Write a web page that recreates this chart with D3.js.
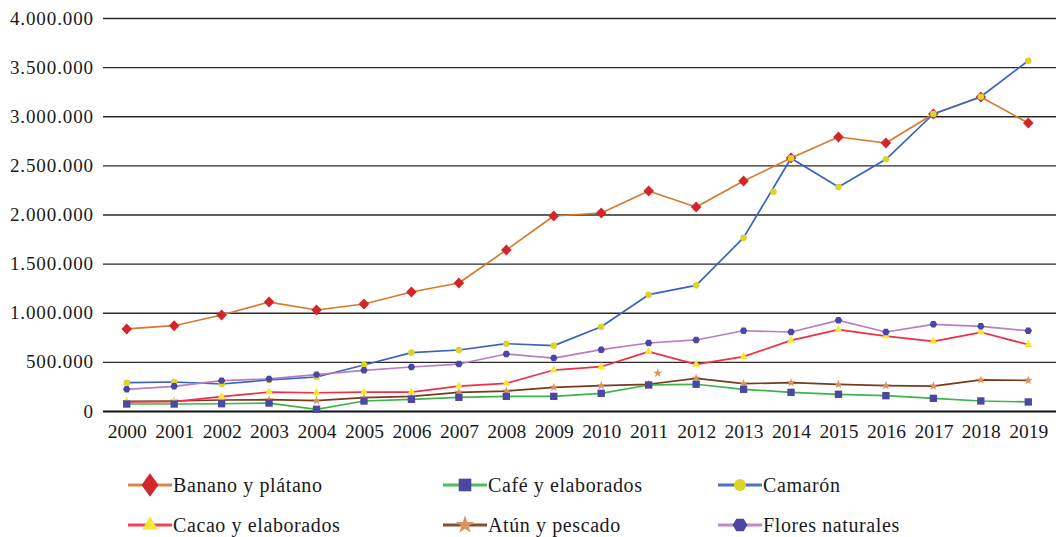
<!DOCTYPE html>
<html>
<head>
<meta charset="utf-8">
<script src="https://cdn.jsdelivr.net/npm/d3@7"></script>
<style>
  html, body { margin: 0; padding: 0; background: #ffffff; }
  svg { display: block; }
  text { font-family: "Liberation Serif", "DejaVu Serif", serif; fill: #1a1a1a; }
</style>
</head>
<body>
<svg id="chart" width="1062" height="537"></svg>
<script>
// Ecuador non-oil exports, 2000-2019 (thousand USD)
const years = [2000, 2001, 2002, 2003, 2004, 2005, 2006, 2007, 2008, 2009,
               2010, 2011, 2012, 2013, 2014, 2015, 2016, 2017, 2018, 2019];

const banano  = [835000, 868000, 977000, 1109000, 1028000, 1089000, 1211000, 1303000, 1639000, 1985000,
                 2015000, 2239000, 2076000, 2341000, 2575000, 2789000, 2728000, 3023000, 3196000, 2931000];
const cafe    = [71000, 71000, 74000, 81000, 17000, 102000, 119000, 139000, 149000, 149000,
                 180000, 265000, 272000, 221000, 190000, 170000, 156000, 129000, 102000, 92000];
const camaron = [288000, 295000, 275000, 316000, 346000, 468000, 594000, 621000, 685000, 665000,
                 858000, 1184000, 1279000, 1764000, 2572000, 2280000, 2562000, 3023000, 3199000, 3565000];
const cacao   = [92000, 95000, 146000, 193000, 186000, 193000, 193000, 254000, 282000, 417000,
                 451000, 604000, 475000, 553000, 719000, 828000, 763000, 709000, 801000, 675000];
const atun    = [98000, 102000, 112000, 115000, 105000, 136000, 149000, 190000, 203000, 241000,
                 258000, 272000, 333000, 278000, 288000, 271000, 258000, 254000, 316000, 312000];
const flores  = [221000, 251000, 309000, 326000, 370000, 414000, 448000, 478000, 580000, 539000,
                 624000, 692000, 723000, 817000, 804000, 923000, 804000, 882000, 862000, 817000];

// loose markers sitting off their lines (year position, value)
const extraAtun    = [{ year: 2011.19, value: 385000 }];
const extraCamaron = [{ year: 2013.63, value: 2232000 }];

const yTicks = [0, 500000, 1000000, 1500000, 2000000, 2500000, 3000000, 3500000, 4000000];

const seriesNames = ["Banano y plátano", "Café y elaborados", "Camarón",
                     "Cacao y elaborados", "Atún y pescado", "Flores naturales"];

// hexagon symbol for the flowers series
const symbolHexagon = {
  draw(context, size) {
    const r = Math.sqrt(size / (1.5 * Math.sqrt(3)));
    for (let i = 0; i < 6; i++) {
      const a = Math.PI / 3 * i;
      const px = r * Math.cos(a), py = r * Math.sin(a);
      if (i === 0) context.moveTo(px, py); else context.lineTo(px, py);
    }
    context.closePath();
  }
};

// drawing order (later series sit on top)
const series = [
  { name: seriesNames[0], values: banano,  line: "#D67A2E", fill: "#D2262C", symbol: d3.symbolSquare, size: 56, legendSize: 160, rotate: 45, sy: 1.05 },
  { name: seriesNames[4], values: atun,    line: "#7A3A1C", fill: "#D9935E", symbol: d3.symbolStar, size: 26, legendSize: 105, extra: extraAtun },
  { name: seriesNames[3], values: cacao,   line: "#F12E48", fill: "#F8E536", symbol: d3.symbolTriangle, size: 28, legendSize: 105 },
  { name: seriesNames[1], values: cafe,    line: "#3DB54B", fill: "#4B47A2", symbol: d3.symbolSquare, size: 54, legendSize: 160 },
  { name: seriesNames[2], values: camaron, line: "#3A63BE", fill: "#DAD42B", symbol: d3.symbolCircle, size: 34, legendSize: 115, extra: extraCamaron },
  { name: seriesNames[5], values: flores,  line: "#B87DC5", fill: "#4B45A3", symbol: symbolHexagon, size: 36, legendSize: 140 }
];

const svg = d3.select("#chart");
const plotLeft = 103, plotRight = 1052, plotTop = 18, plotBottom = 411, gridRight = 1056;

const x = d3.scaleLinear().domain([years[0] - 0.5, years[years.length - 1] + 0.5]).range([plotLeft, plotRight]);
const y = d3.scaleLinear().domain([0, 4000000]).range([plotBottom, plotTop]);

const fmt = v => d3.format(",")(v).replace(/,/g, ".");

// horizontal gridlines + value labels
const yAxis = d3.axisLeft(y).tickValues(yTicks).tickSize(-(gridRight - plotLeft)).tickFormat(fmt).tickPadding(9);
const gy = svg.append("g").attr("transform", `translate(${plotLeft},0)`).call(yAxis);
gy.select(".domain").remove();
gy.selectAll(".tick line")
  .attr("stroke", d => d === 0 ? "#111" : "#2a2a2a")
  .attr("stroke-width", d => d === 0 ? 2.2 : 1.3);
gy.selectAll(".tick text")
  .attr("font-size", 19)
  .attr("letter-spacing", 0.9)
  .attr("fill", "#1a1a1a")
  .style("font-family", '"Liberation Serif", serif');

// year labels
const xAxis = d3.axisBottom(x).tickValues(years).tickFormat(d3.format("d")).tickSize(0).tickPadding(13);
const gx = svg.append("g").attr("transform", `translate(0,${plotBottom})`).call(xAxis);
gx.select(".domain").remove();
gx.selectAll(".tick text")
  .attr("font-size", 19.5)
  .attr("fill", "#1a1a1a")
  .style("font-family", '"Liberation Serif", serif');

const lineGen = d3.line().x((d, i) => x(years[i])).y(d => y(d));

series.forEach(s => {
  const g = svg.append("g");
  g.append("path")
    .datum(s.values)
    .attr("fill", "none")
    .attr("stroke", s.line)
    .attr("stroke-width", 1.7)
    .attr("stroke-linejoin", "round")
    .attr("d", lineGen);
  const sym = d3.symbol().type(s.symbol).size(s.size);
  const pts = s.values.map((v, i) => ({ year: years[i], value: v })).concat(s.extra || []);
  g.selectAll("path.mk")
    .data(pts)
    .join("path")
    .attr("class", "mk")
    .attr("d", sym)
    .attr("fill", s.fill)
    .attr("transform", d => {
      let t = `translate(${x(d.year)},${y(d.value)})`;
      if (s.rotate) t += ` scale(1,${s.sy || 1}) rotate(${s.rotate})`;
      return t;
    });
});

// legend: two rows of three entries
const legendItems = seriesNames.map(n => series.find(s => s.name === n));
const colX = [128, 443, 718];
const rowY = [485, 525];

legendItems.forEach((s, i) => {
  const cx = colX[i % 3], cy = rowY[Math.floor(i / 3)];
  const g = svg.append("g").attr("transform", `translate(${cx},${cy})`);
  g.append("line")
    .attr("x1", 0).attr("x2", 44).attr("y1", 0).attr("y2", 0)
    .attr("stroke", s.line).attr("stroke-width", 3.2).attr("stroke-opacity", 0.9);
  const sym = d3.symbol().type(s.symbol).size(s.legendSize);
  let t = "translate(22,0)";
  if (s.rotate) t += ` scale(0.95,1.3) rotate(${s.rotate})`;
  g.append("path").attr("d", sym).attr("fill", s.fill).attr("transform", t);
  g.append("text")
    .attr("x", 45).attr("y", 0).attr("dy", "0.35em")
    .attr("font-size", 20)
    .attr("letter-spacing", 0.6)
    .text(s.name);
});
</script>
</body>
</html>
